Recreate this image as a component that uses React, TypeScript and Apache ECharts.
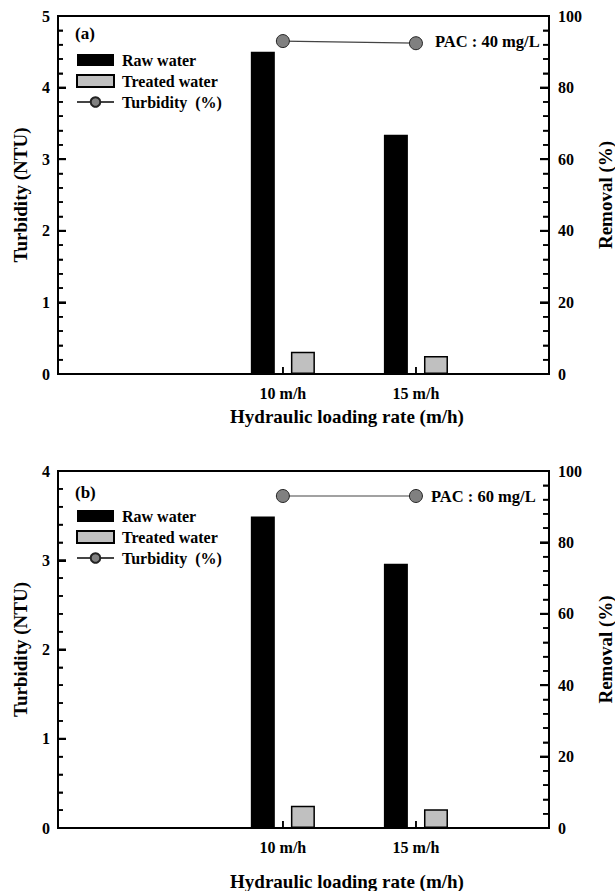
import React, { useEffect, useRef } from "react";
import * as echarts from "echarts";

// ---- data ----
const rates = [10, 15];
const rateLabels = ["10 m/h", "15 m/h"];
const rawA = [4.5, 3.34];
const treatedA = [0.31, 0.25];
const removalA = [93.0, 92.4];
const rawB = [3.49, 2.96];
const treatedB = [0.25, 0.21];
const removalB = [93.0, 93.0];
const seriesNames = ["Raw water", "Treated water", "Turbidity  (%)"];
const panelTags = ["(a)", "(b)"];
const pacLabels = ["PAC : 40 mg/L", "PAC : 60 mg/L"];
const leftTicksA = [0, 1, 2, 3, 4, 5];
const leftTicksB = [0, 1, 2, 3, 4];
const rightTicks = [0, 20, 40, 60, 80, 100];
const xTitle = "Hydraulic loading rate (m/h)";
const yLeftTitle = "Turbidity (NTU)";
const yRightTitle = "Removal (%)";

const FONT = "'Liberation Serif', 'Times New Roman', serif";
const MINOR_SPLIT = 5;
const X_MIN = 1.55;
const X_MAX = 20;

// tick layout: majors plus minor subdivisions between them
function tickMarks(majors: number[]) {
  const out: [number, boolean][] = [];
  majors.forEach((m, i) => {
    out.push([m, true]);
    if (i < majors.length - 1) {
      const step = (majors[i + 1] - m) / MINOR_SPLIT;
      for (let k = 1; k < MINOR_SPLIT; k++) out.push([m + step * k, false]);
    }
  });
  return out;
}

export default function App() {
  const ref = useRef<HTMLDivElement>(null);
  useEffect(() => {
    if (!ref.current) return;
    const chart = echarts.init(ref.current, undefined, { renderer: "svg" });
    const grids = [
      { left: 58, right: 66, top: 16, height: 358 },
      { left: 58, right: 66, top: 471, height: 357 },
    ];
    const raws = [rawA, rawB];
    const treats = [treatedA, treatedB];
    const rems = [removalA, removalB];
    const lefts = [leftTicksA, leftTicksB];

    const xAxes: any[] = [];
    const yAxes: any[] = [];
    const series: any[] = [];
    const legends: any[] = [];
    const graphics: any[] = [];
    const legendTops = [52, 508];
    const tagY = [33, 492];
    const pacY = [41, 496];
    const pacX = [435, 431];
    const xTitleY = [416, 881];
    const lbl = { color: "#000", fontFamily: FONT, fontWeight: "bold", fontSize: 16 };

    grids.forEach((g, p) => {
      const lt = lefts[p];
      xAxes.push({
        type: "value",
        gridIndex: p,
        min: X_MIN,
        max: X_MAX,
        axisLine: { show: true, onZero: false, lineStyle: { color: "#000", width: 2 } },
        axisTick: { show: true, inside: true, length: 7, customValues: rates, lineStyle: { color: "#000", width: 1.5 } },
        axisLabel: {
          show: true,
          customValues: rates,
          formatter: (v: number) => rateLabels[rates.indexOf(v)] ?? "",
          margin: 11,
          ...lbl,
        },
        splitLine: { show: false },
      });
      yAxes.push({
        type: "value",
        gridIndex: p,
        position: "left",
        min: lt[0],
        max: lt[lt.length - 1],
        axisLine: { show: true, onZero: false, lineStyle: { color: "#000", width: 2 } },
        axisTick: { show: true, inside: true, length: 8, lineStyle: { color: "#000", width: 2 } },
        minorTick: { show: true, splitNumber: MINOR_SPLIT, length: 5, lineStyle: { color: "#000", width: 1.5 } },
        axisLabel: { margin: 8, ...lbl },
        splitLine: { show: false },
      });
      yAxes.push({
        type: "value",
        gridIndex: p,
        position: "right",
        min: rightTicks[0],
        max: rightTicks[rightTicks.length - 1],
        axisLine: { show: true, onZero: false, lineStyle: { color: "#000", width: 2 } },
        axisTick: { show: true, inside: true, length: 9, lineStyle: { color: "#000", width: 2 } },
        minorTick: { show: true, splitNumber: MINOR_SPLIT, length: 6, lineStyle: { color: "#000", width: 1.5 } },
        axisLabel: { margin: 9, ...lbl },
        splitLine: { show: false },
      });
      series.push({
        name: seriesNames[0],
        type: "bar",
        xAxisIndex: p,
        yAxisIndex: p * 2,
        barWidth: 24,
        barGap: "67%",
        itemStyle: { color: "#000" },
        data: rates.map((r, i) => [r, raws[p][i]]),
      });
      series.push({
        name: seriesNames[1],
        type: "bar",
        xAxisIndex: p,
        yAxisIndex: p * 2,
        barWidth: 24,
        barGap: "67%",
        itemStyle: { color: "#c0c0c0", borderColor: "#000", borderWidth: 1.5 },
        data: rates.map((r, i) => [r, treats[p][i]]),
      });
      series.push({
        name: seriesNames[2],
        type: "line",
        xAxisIndex: p,
        yAxisIndex: p * 2 + 1,
        symbol: "circle",
        symbolSize: 13,
        z: 5,
        itemStyle: { color: "#808080", borderColor: "#222", borderWidth: 1 },
        lineStyle: { color: "#444", width: 1.2 },
        data: rates.map((r, i) => [r, rems[p][i]]),
      });
      legends.push({
        orient: "vertical",
        left: 76,
        top: legendTops[p],
        padding: 0,
        itemWidth: 37,
        itemHeight: 12,
        itemGap: 5,
        selectedMode: false,
        textStyle: { color: "#000", fontFamily: FONT, fontWeight: "bold", fontSize: 16, lineHeight: 16, padding: [0, 0, 0, 3] },
        data: [{ name: seriesNames[0], icon: "rect" }, { name: seriesNames[1], icon: "rect" }, { name: seriesNames[2] }],
      });
      const midY = g.top + g.height / 2;
      graphics.push(
        { type: "text", x: 75, y: tagY[p], style: { text: panelTags[p], fill: "#000", font: `bold 17px ${FONT}`, align: "left", verticalAlign: "middle" } },
        { type: "text", x: pacX[p], y: pacY[p], style: { text: pacLabels[p], fill: "#000", font: `bold 16.5px ${FONT}`, align: "left", verticalAlign: "middle" } },
        { type: "text", x: 347, y: xTitleY[p], style: { text: xTitle, fill: "#000", font: `bold 19px ${FONT}`, align: "center", verticalAlign: "middle" } },
        { type: "text", x: 20, y: midY, rotation: Math.PI / 2, style: { text: yLeftTitle, fill: "#000", font: `bold 19px ${FONT}`, align: "center", verticalAlign: "middle" } },
        { type: "text", x: 605, y: midY, rotation: Math.PI / 2, style: { text: yRightTitle, fill: "#000", font: `bold 19px ${FONT}`, align: "center", verticalAlign: "middle" } }
      );
    });

    chart.setOption({
      animation: false,
      backgroundColor: "#fff",
      grid: grids.map((g) => ({ ...g, show: true, borderColor: "#000", borderWidth: 2 })),
      xAxis: xAxes,
      yAxis: yAxes,
      legend: legends,
      series,
      graphic: graphics,
    });

    // inside tick marks as filled rects, positioned through the series' own axes
    try {
      const tickEls: any[] = [];
      const mkRect = (x: number, y: number, w: number, h: number) => ({
        type: "rect",
        silent: true,
        z: 100,
        shape: { x, y, width: w, height: h },
        style: { fill: "#000" },
      });
      grids.forEach((g, p) => {
        const lt = lefts[p];
        const barIdx = p * 3;
        const lineIdx = p * 3 + 2;
        const px = (si: number, x: number, y: number) => chart.convertToPixel({ seriesIndex: si } as any, [x, y]) as unknown as number[];
        const leftX = px(barIdx, X_MIN, 0)[0];
        const rightX = px(barIdx, X_MAX, 0)[0];
        const bottomY = px(barIdx, X_MIN, lt[0])[1];
        tickMarks(lt).forEach(([v, major]) => {
          const y = px(barIdx, X_MIN, v)[1];
          const h = major ? 2 : 1.5;
          tickEls.push(mkRect(leftX, y - h / 2, major ? 8 : 5, h));
        });
        tickMarks(rightTicks).forEach(([v, major]) => {
          const y = px(lineIdx, X_MIN, v)[1];
          const h = major ? 2 : 1.5;
          const len = major ? 9 : 6;
          tickEls.push(mkRect(rightX - len, y - h / 2, len, h));
        });
        rates.forEach((r) => {
          const x = px(barIdx, r, 0)[0];
          tickEls.push(mkRect(x - 0.75, bottomY - 7, 1.5, 7));
        });
      });
      const ok = tickEls.every((e) => isFinite(e.shape.x) && isFinite(e.shape.y));
      if (ok) chart.setOption({ graphic: [...graphics, ...tickEls] });
    } catch (e) {
      // leave the axis ticks as drawn by the axes
    }

    return () => chart.dispose();
  }, []);
  return <div ref={ref} style={{ position: "absolute", left: 0, top: 0, width: 615, height: 891 }} />;
}
